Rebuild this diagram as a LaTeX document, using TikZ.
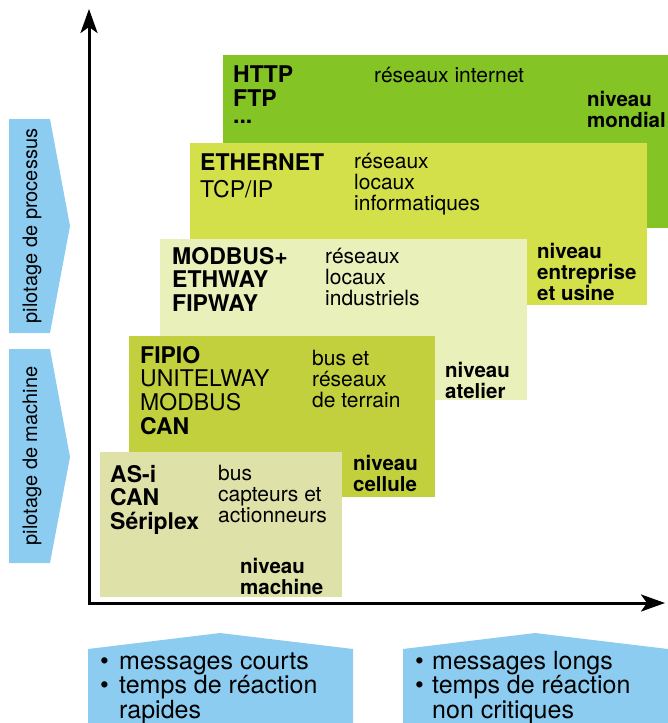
\documentclass[tikz,border=0pt]{standalone}
\usepackage{fontspec}
\setmainfont{TeX Gyre Heros}
\usetikzlibrary{arrows.meta}

\definecolor{cMondial}{HTML}{84C424}
\definecolor{cEntreprise}{HTML}{D4E04A}
\definecolor{cAtelier}{HTML}{EAF0BA}
\definecolor{cCellule}{HTML}{C2D03E}
\definecolor{cMachine}{HTML}{DEE2A8}
\definecolor{cBlue}{HTML}{8CCCF0}

% stacked lines whose baseline is the first line
\newcommand\stacklines[1]{\begin{tabular}[t]{@{}l@{}}#1\end{tabular}}

\begin{document}
\begin{tikzpicture}[x=1pt,y=-1pt,
  levelbox/.style={draw=none,rectangle,inner sep=0pt,anchor=north west},
  txt/.style={inner sep=0pt,anchor=base west},
  proto/.style={txt,font=\fontsize{23}{23}\selectfont},
  desc/.style={txt,font=\fontsize{21}{20.5}\selectfont},
  niv/.style={txt,font=\bfseries\fontsize{20.5}{20.5}\selectfont},
  bottomtxt/.style={txt,font=\fontsize{25}{22}\selectfont},
  sidetxt/.style={inner sep=0pt,anchor=base,rotate=90,font=\fontsize{20}{20}\selectfont},
  axis/.style={line width=3pt,line join=miter,{Stealth[length=24pt,width=17pt,inset=6pt]}-{Stealth[length=24pt,width=17pt,inset=6pt]}},
  pilot/.style={fill=cBlue,draw=none}
]
\useasboundingbox (0,0) rectangle (668,723);

% ---- network levels, back to front ----
\node[levelbox,fill=cMondial,minimum width=445pt,minimum height=173pt] (mondial) at (223,55) {};
\node[levelbox,fill=cEntreprise,minimum width=457pt,minimum height=162pt] (entreprise) at (190,143) {};
\node[levelbox,fill=cAtelier,minimum width=367pt,minimum height=161pt] (atelier) at (160,239) {};
\node[levelbox,fill=cCellule,minimum width=306pt,minimum height=161pt] (cellule) at (129,336) {};
\node[levelbox,fill=cMachine,minimum width=242pt,minimum height=145pt] (machine) at (100,452) {};

% level: mondial
\node[proto] (pMondial) at (233,82.5) {\bfseries\stacklines{HTTP\\FTP}};
\node[proto] (pMondialEtc) at (233,123) {\bfseries ...};
\node[desc] (dMondial) at (374,82) {réseaux internet};
\node[niv] (nMondial) at (587,106) {\stacklines{niveau\\mondial}};

% level: entreprise et usine
\node[proto] (pEntreprise) at (200,170) {\stacklines{\textbf{ETHERNET}\\[3pt]TCP/IP}};
\node[desc] (dEntreprise) at (354,168) {\stacklines{réseaux\\locaux\\informatiques}};
\node[niv] (nEntreprise) at (537,258) {\stacklines{niveau\\entreprise\\et usine}};

% level: atelier
\node[proto,font=\bfseries\fontsize{23}{22.5}\selectfont] (pAtelier) at (172,264) {\stacklines{MODBUS+\\ETHWAY\\FIPWAY}};
\node[desc,font=\fontsize{21}{20}\selectfont] (dAtelier) at (325,263) {\stacklines{réseaux\\locaux\\industriels}};
\node[niv] (nAtelier) at (445,377) {\stacklines{niveau\\atelier}};

% level: cellule
\node[proto,font=\fontsize{23}{23.3}\selectfont] (pCellule) at (140,363) {\stacklines{\textbf{FIPIO}\\UNITELWAY\\MODBUS\\\textbf{CAN}}};
\node[desc] (dCellule) at (312,365) {\stacklines{bus et\\réseaux\\de terrain}};
\node[niv] (nCellule) at (353,470) {\stacklines{niveau\\cellule}};

% level: machine
\node[proto,font=\bfseries\fontsize{23}{21.5}\selectfont] (pMachine) at (110,482) {\stacklines{AS-i\\CAN\\Sériplex}};
\node[desc,font=\fontsize{21}{21}\selectfont] (dMachine) at (218,480) {\stacklines{bus\\capteurs et\\actionneurs}};
\node[niv,font=\bfseries\fontsize{20.5}{20}\selectfont] (nMachine) at (240,573) {\stacklines{niveau\\machine}};

% ---- axes ----
\coordinate (yTip) at (89,9);
\coordinate (origin) at (89,603);
\coordinate (xTip) at (665,603);
\draw[axis] (yTip) -- (origin) -- (xTip);

% ---- side arrows ----
\fill[pilot] (9,119) -- (50,119) -- (70,226) -- (50,333) -- (9,333) -- cycle;
\node[sidetxt] (sProcessus) at (37,226) {pilotage de processus};
\fill[pilot] (9,349) -- (50,349) -- (70,457) -- (50,563) -- (9,563) -- cycle;
\node[sidetxt] (sMachine) at (37,456) {pilotage de machine};

% ---- bottom arrows ----
\fill[pilot] (88,724) -- (88,649) -- (220,633) -- (353,649) -- (353,724) -- cycle;
\node[bottomtxt] (bCourts) at (100,669) {\stacklines{\makebox[19pt][l]{\textbullet}messages courts\\\makebox[19pt][l]{\textbullet}temps de réaction\\\hspace*{19pt}rapides}};
\fill[pilot] (403,724) -- (403,649) -- (535,633) -- (668,649) -- (668,724) -- cycle;
\node[bottomtxt] (bLongs) at (415,669) {\stacklines{\makebox[17pt][l]{\textbullet}messages longs\\\makebox[17pt][l]{\textbullet}temps de réaction\\\hspace*{17pt}non critiques}};
\end{tikzpicture}
\end{document}
